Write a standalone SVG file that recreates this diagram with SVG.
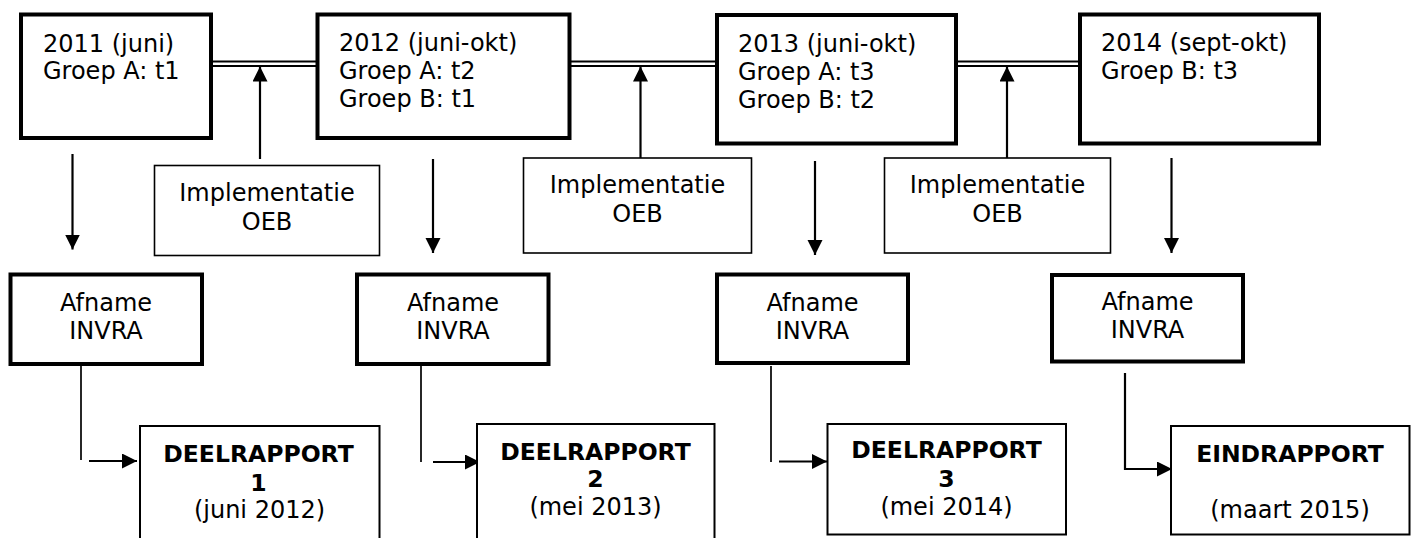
<svg xmlns="http://www.w3.org/2000/svg" width="1416" height="538" viewBox="0 0 1416 538">
<style>
.thick{fill:#fff;stroke:#000;stroke-width:4}
.thin{fill:#fff;stroke:#000;stroke-width:1.6}
.mid{fill:#fff;stroke:#000;stroke-width:2}
.t{font-family:"DejaVu Sans","Verdana",sans-serif;font-size:24px;fill:#000}
.c{text-anchor:middle}
.b{font-weight:bold;font-size:23.5px}
.ln{stroke:#000;stroke-width:1.7;fill:none}
.dl{stroke:#000;stroke-width:2;fill:none}
.ar{stroke:#000;stroke-width:2.2;fill:none;marker-end:url(#ah)}
</style>
<defs>
<marker id="ah" markerUnits="userSpaceOnUse" markerWidth="16" markerHeight="16" refX="15" refY="7.5" orient="auto">
<path d="M0,0 L15,7.5 L0,15 z" fill="#000"/>
</marker>
</defs>
<rect width="1416" height="538" fill="#fff"/>
<g id="connectors">
<line class="dl" x1="212" y1="61.5" x2="317" y2="61.5"/>
<line class="dl" x1="212" y1="66" x2="317" y2="66"/>
<line class="dl" x1="570" y1="61.5" x2="716" y2="61.5"/>
<line class="dl" x1="570" y1="66" x2="716" y2="66"/>
<line class="dl" x1="956" y1="61.5" x2="1079" y2="61.5"/>
<line class="dl" x1="956" y1="66" x2="1079" y2="66"/>
<line class="ar" x1="260" y1="159" x2="260" y2="66.5"/>
<line class="ar" x1="640.5" y1="159" x2="640.5" y2="66.5"/>
<line class="ar" x1="1007" y1="159" x2="1007" y2="66.5"/>
<line class="ar" x1="72.5" y1="154" x2="72.5" y2="249.5"/>
<line class="ar" x1="433" y1="159" x2="433" y2="253"/>
<line class="ar" x1="815" y1="161" x2="815" y2="255"/>
<line class="ar" x1="1171.5" y1="158" x2="1171.5" y2="253"/>
<line class="ln" x1="81" y1="366" x2="81" y2="460"/>
<line class="ar" x1="89" y1="461" x2="137" y2="461"/>
<line class="ln" x1="421" y1="366" x2="421" y2="462"/>
<line class="ar" x1="433" y1="462" x2="480" y2="462"/>
<line class="ln" x1="771" y1="366" x2="771" y2="462"/>
<line class="ar" x1="779" y1="461.5" x2="827" y2="461.5"/>
<polyline class="ar" points="1125,373 1125,469 1172,469"/>
</g>
<g id="y2011">
<rect class="thick" x="21" y="14.5" width="190" height="123.5"/>
<text class="t" x="43" y="52">2011 (juni)</text>
<text class="t" x="43" y="79">Groep A: t1</text>
</g>
<g id="y2012">
<rect class="thick" x="317.5" y="14.5" width="252" height="123.5"/>
<text class="t" x="339" y="51">2012 (juni-okt)</text>
<text class="t" x="339" y="79">Groep A: t2</text>
<text class="t" x="339" y="107">Groep B: t1</text>
</g>
<g id="y2013">
<rect class="thick" x="717" y="15" width="239" height="128.5"/>
<text class="t" x="738" y="52">2013 (juni-okt)</text>
<text class="t" x="738" y="80">Groep A: t3</text>
<text class="t" x="738" y="108">Groep B: t2</text>
</g>
<g id="y2014">
<rect class="thick" x="1080" y="14.5" width="239" height="129"/>
<text class="t" x="1101" y="51">2014 (sept-okt)</text>
<text class="t" x="1101" y="79">Groep B: t3</text>
</g>
<g id="impl1">
<rect class="thin" x="154.5" y="165.5" width="225" height="90"/>
<text class="t c" x="267" y="201">Implementatie</text>
<text class="t c" x="267" y="230">OEB</text>
</g>
<g id="impl2">
<rect class="thin" x="523.5" y="158" width="228" height="95"/>
<text class="t c" x="637.5" y="193">Implementatie</text>
<text class="t c" x="637.5" y="222">OEB</text>
</g>
<g id="impl3">
<rect class="thin" x="884.5" y="158" width="226" height="95"/>
<text class="t c" x="997.5" y="193">Implementatie</text>
<text class="t c" x="997.5" y="222">OEB</text>
</g>
<g id="afname1">
<rect class="thick" x="10.5" y="274.5" width="191.5" height="89.5"/>
<text class="t c" x="106" y="311">Afname</text>
<text class="t c" x="106" y="339">INVRA</text>
</g>
<g id="afname2">
<rect class="thick" x="357" y="274.5" width="191.5" height="89.5"/>
<text class="t c" x="453" y="311">Afname</text>
<text class="t c" x="453" y="339">INVRA</text>
</g>
<g id="afname3">
<rect class="thick" x="717" y="274.5" width="191" height="88.5"/>
<text class="t c" x="812.5" y="311">Afname</text>
<text class="t c" x="812.5" y="339">INVRA</text>
</g>
<g id="afname4">
<rect class="thick" x="1052" y="275" width="191" height="86.5"/>
<text class="t c" x="1147.5" y="310">Afname</text>
<text class="t c" x="1147.5" y="338">INVRA</text>
</g>
<g id="deel1">
<rect class="mid" x="140" y="426" width="239.5" height="130"/>
<text class="t c b" x="258.5" y="461.5">DEELRAPPORT</text>
<text class="t c b" x="258.5" y="490.5">1</text>
<text class="t c" x="259.5" y="518">(juni 2012)</text>
</g>
<g id="deel2">
<rect class="mid" x="477" y="424" width="237.5" height="130"/>
<text class="t c b" x="595.5" y="460">DEELRAPPORT</text>
<text class="t c b" x="595.5" y="487">2</text>
<text class="t c" x="595.5" y="515">(mei 2013)</text>
</g>
<g id="deel3">
<rect class="mid" x="827.5" y="424" width="238.5" height="110.5"/>
<text class="t c b" x="946.5" y="458">DEELRAPPORT</text>
<text class="t c b" x="946.5" y="486.5">3</text>
<text class="t c" x="946.5" y="515">(mei 2014)</text>
</g>
<g id="eind">
<rect class="mid" x="1171" y="426" width="238.5" height="108.5"/>
<text class="t c b" x="1290" y="461.5">EINDRAPPORT</text>
<text class="t c" x="1290" y="518">(maart 2015)</text>
</g>
</svg>
